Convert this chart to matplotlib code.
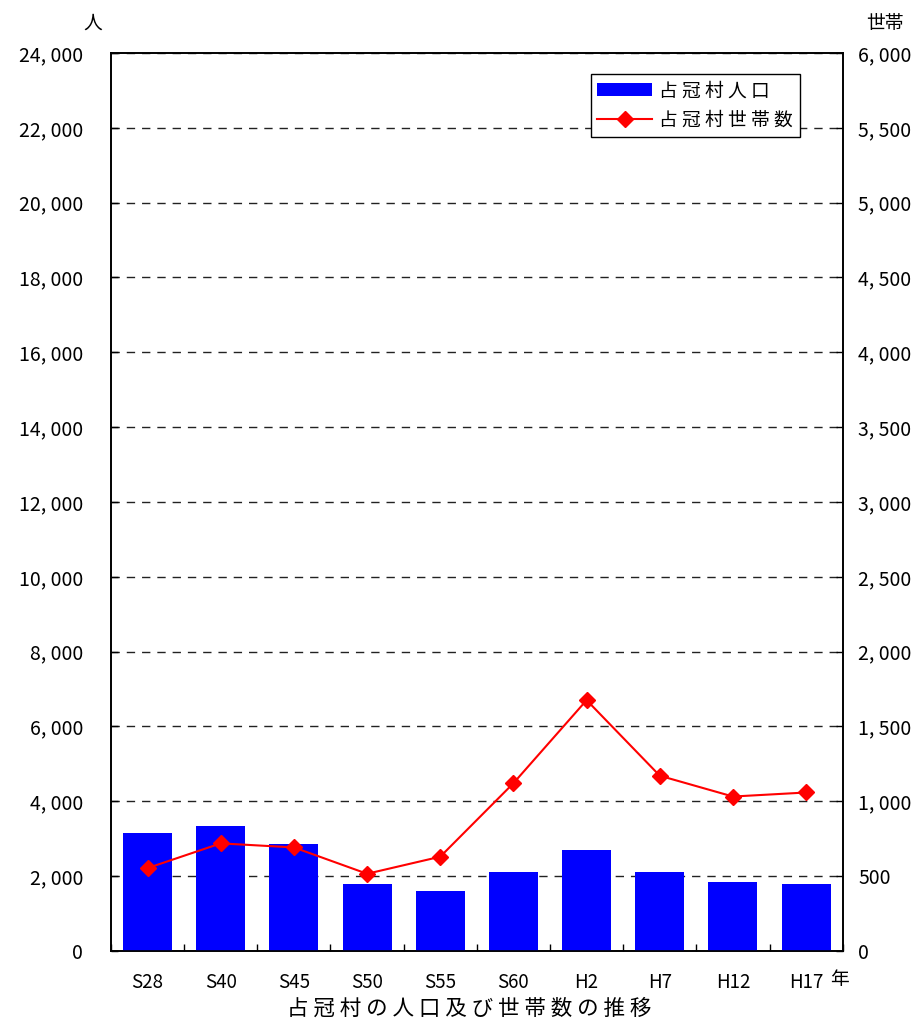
import matplotlib
matplotlib.use("Agg")
import matplotlib.pyplot as plt
from matplotlib.ticker import FixedLocator, FuncFormatter
import numpy as np

plt.rcParams['font.family'] = ['Noto Sans CJK JP', 'DejaVu Sans']

# 占冠村 人口・世帯数
years = ['S28', 'S40', 'S45', 'S50', 'S55', 'S60', 'H2', 'H7', 'H12', 'H17']
population = [3164, 3333, 2869, 1796, 1609, 2118, 2708, 2118, 1850, 1796]
households = [554, 719, 692, 516, 630, 1121, 1676, 1171, 1032, 1059]

pop_ticks = list(range(0, 24001, 2000))
hh_ticks = list(range(0, 6001, 500))


def comma_fmt(v, pos=None):
    # 桁区切りのカンマの後ろに空白
    return '{:,}'.format(int(v)).replace(',', ', ')


def spaced(s):
    return ' '.join(s)


fig = plt.figure(figsize=(9.17, 10.31), dpi=100)
ax = fig.add_axes([0.121, 0.0776, 0.798, 0.871])
ax2 = ax.twinx()

x = np.arange(len(years))
bars = ax.bar(x, population, width=0.67, color='#0000ff', zorder=3,
              label=spaced('占冠村人口'))
line, = ax2.plot(x, households, color='#ff0000', lw=1.5, marker='D',
                 markersize=8, zorder=4, label=spaced('占冠村世帯数'))

ax.set_xlim(-0.5, len(years) - 0.5)
ax.set_ylim(0, 24000)
ax2.set_ylim(0, 6000)
ax.yaxis.set_major_locator(FixedLocator(pop_ticks))
ax2.yaxis.set_major_locator(FixedLocator(hh_ticks))
ax.yaxis.set_major_formatter(FuncFormatter(comma_fmt))
ax2.yaxis.set_major_formatter(FuncFormatter(comma_fmt))

# 区切り目盛りはカテゴリの境界に
ax.set_xticks(np.arange(len(years) + 1) - 0.5, minor=False)
ax.set_xticklabels([])
ax.set_xticks(x, minor=True)
ax.set_xticklabels(years, minor=True, fontsize=13.5)
ax.tick_params(axis='x', which='major', direction='in', length=5, width=1)
ax.tick_params(axis='x', which='minor', length=0, pad=15)

ax.tick_params(axis='y', direction='in', length=5, width=1, labelsize=14, pad=20)
ax2.tick_params(axis='y', direction='in', length=5, width=1, labelsize=14, pad=11)

ax.grid(axis='y', color='#222222', linestyle=(0, (6, 5)), lw=1, zorder=0)
ax.set_axisbelow(True)

for a in (ax, ax2):
    for sp in a.spines.values():
        sp.set_color('black')
        sp.set_linewidth(1.2)

ax.text(-0.025, 1.033, '人', transform=ax.transAxes, ha='center', va='center',
        fontsize=13.5)
ax.text(1.058, 1.033, '世帯', transform=ax.transAxes, ha='center', va='center',
        fontsize=13.5)
ax.text(0.995, -0.032, '年', transform=ax.transAxes, ha='center', va='center',
        fontsize=13.5)

leg = ax.legend(handles=[bars, line], loc='upper right',
                bbox_to_anchor=(0.941, 0.977), fontsize=13.5, frameon=True,
                fancybox=False, edgecolor='black', framealpha=1,
                handlelength=2.9, borderpad=0.35, labelspacing=0.45,
                handletextpad=0.4, borderaxespad=0)
leg.get_frame().set_linewidth(1)
leg.set_zorder(10)

fig.text(0.512, 0.011, spaced('占冠村の人口及び世帯数の推移'), ha='center',
         va='bottom', fontsize=15.5)

fig.savefig('out.png', dpi=100)
